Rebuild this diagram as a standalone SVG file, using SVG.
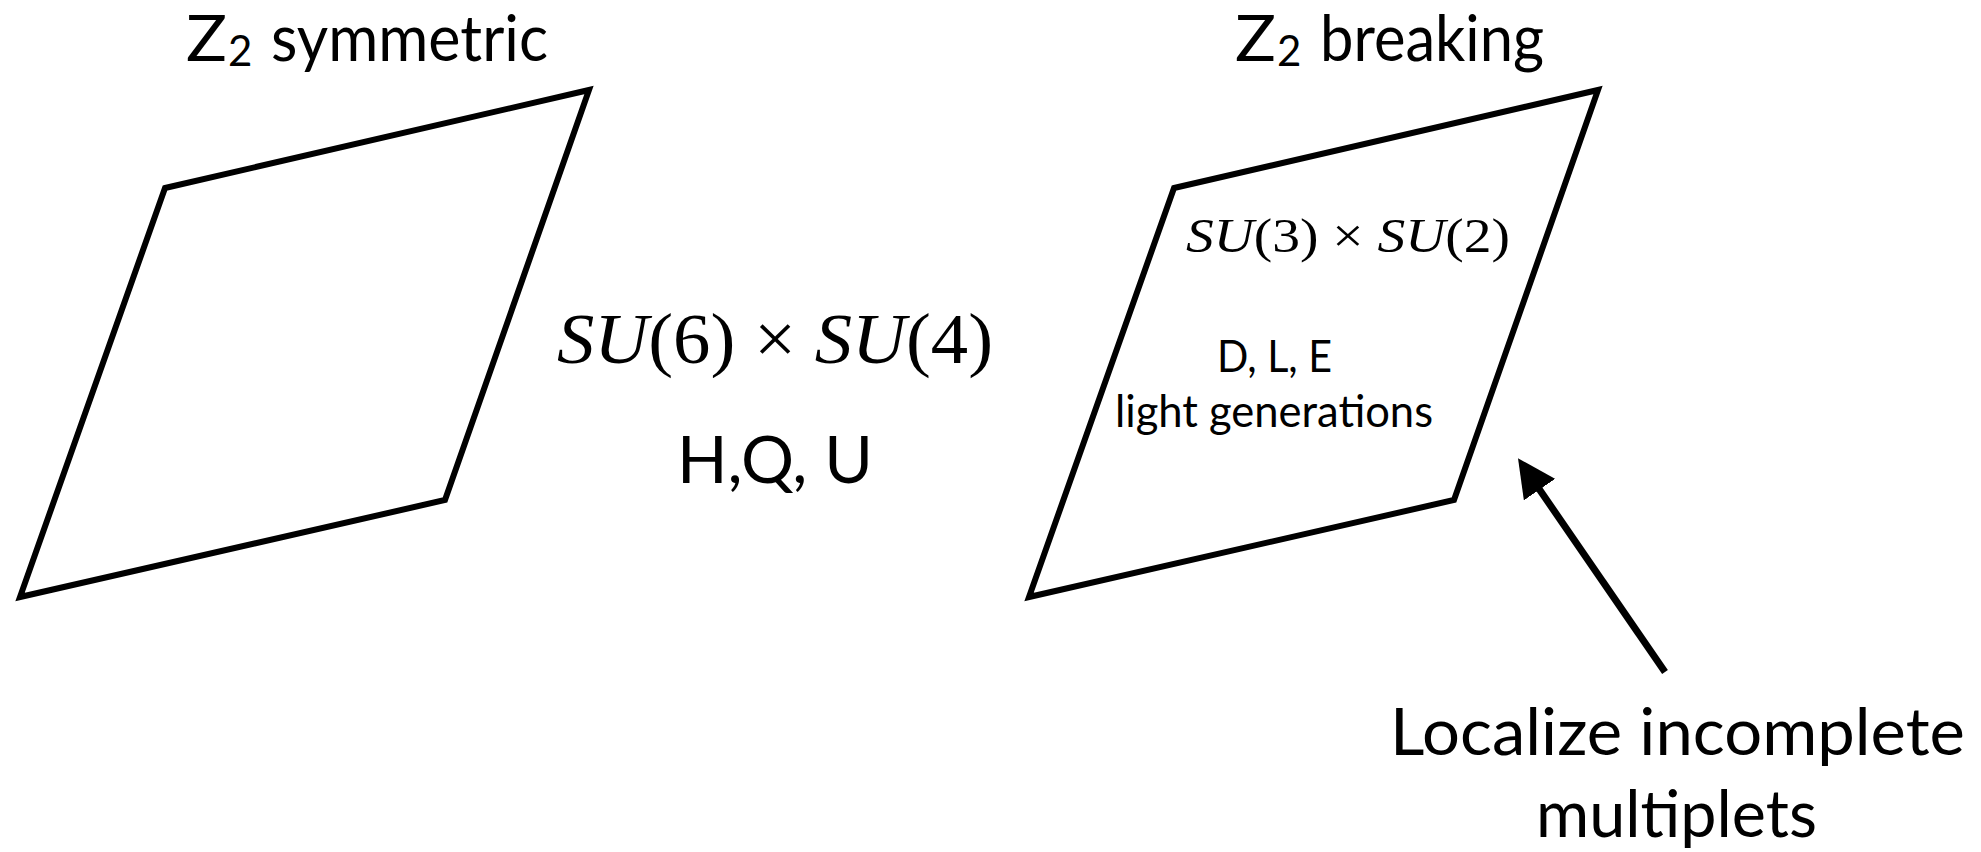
<svg xmlns="http://www.w3.org/2000/svg" width="1981" height="852" viewBox="0 0 1981 852">
<defs>
<style>
.plane{fill:none;stroke:#000;stroke-width:6;stroke-linejoin:miter}
.sans{font-family:Lato,"Open Sans","Liberation Sans",sans-serif;fill:#000}
.math{font-family:"Liberation Serif","DejaVu Serif",serif;fill:#000}
.it{font-style:italic}
.conn{stroke:#000;stroke-width:7;fill:none}
</style>
<marker id="arrow" markerUnits="userSpaceOnUse" viewBox="0 0 38 38" markerWidth="38" markerHeight="38" refX="8" refY="19" orient="auto">
<path d="M0,0 L38,19 L0,38 z" fill="#000"/>
</marker>
</defs>
<rect width="1981" height="852" fill="#fff"/>

<g id="symmetric-plane">
<polygon class="plane" points="165,188 589,90 445,500 20,597"/>
<text class="sans" font-size="63" y="61"><tspan x="186" textLength="41" lengthAdjust="spacingAndGlyphs">Z</tspan><tspan x="228" dy="5" font-size="42">2 </tspan><tspan x="271" dy="-5" textLength="277" lengthAdjust="spacingAndGlyphs">symmetric</tspan></text>
</g>

<g id="middle-labels">
<text class="math" font-size="72" x="557" y="363" textLength="436" lengthAdjust="spacingAndGlyphs"><tspan class="it">SU</tspan>(6) × <tspan class="it">SU</tspan>(4)</text>
<text class="sans" font-size="66" x="677" y="483" textLength="196" lengthAdjust="spacingAndGlyphs">H,Q, U</text>
</g>

<g id="breaking-plane">
<polygon class="plane" points="1174,188 1598,90 1454,500 1029,597"/>
<text class="sans" font-size="63" y="61"><tspan x="1235" textLength="41" lengthAdjust="spacingAndGlyphs">Z</tspan><tspan x="1277" dy="5" font-size="42">2 </tspan><tspan x="1320" dy="-5" textLength="224" lengthAdjust="spacingAndGlyphs">breaking</tspan></text>
<text class="math" font-size="48" x="1186" y="252" textLength="324" lengthAdjust="spacingAndGlyphs"><tspan class="it">SU</tspan>(3) × <tspan class="it">SU</tspan>(2)</text>
<text class="sans" font-size="45" x="1217" y="372" textLength="115" lengthAdjust="spacingAndGlyphs">D, L, E</text>
<text class="sans" font-size="44" x="1115" y="427" textLength="318" lengthAdjust="spacingAndGlyphs">light generations</text>
</g>

<g id="note">
<text class="sans" font-size="65" x="1390" y="755" textLength="575" lengthAdjust="spacingAndGlyphs">Localize incomplete</text>
<text class="sans" font-size="65" x="1536" y="837" textLength="281" lengthAdjust="spacingAndGlyphs">multiplets</text>
</g>

<g id="connectors">
<line class="conn" x1="1665" y1="672" x2="1535" y2="483" marker-end="url(#arrow)"/>
</g>
</svg>
